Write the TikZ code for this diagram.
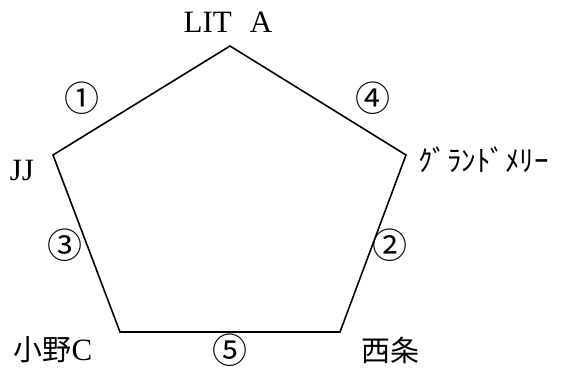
\documentclass[tikz,border=0pt]{standalone}
\usepackage{fontspec}
\setmainfont{Liberation Serif}
\newfontfamily\jpfont{Noto Sans CJK JP}
\usepackage{tikz}
\usetikzlibrary{positioning}
\tikzstyle{lbl} = [inner sep=0pt, font=\fontsize{31}{32}\selectfont]
\tikzstyle{jlbl} = [inner sep=0pt, font=\fontsize{29}{30}\selectfont\jpfont]
\tikzstyle{num} = [inner sep=0pt, font=\fontsize{35}{36}\selectfont\jpfont]
\tikzstyle{edge} = [line width=1.6pt, line join=miter]

\begin{document}
\begin{tikzpicture}[x=1pt,y=-1pt]
                        \useasboundingbox (0,0) rectangle (563,369);
                        \coordinate (lit) at (230, 46);
                        \coordinate (gm) at (406, 155);
                        \coordinate (sj) at (340, 332);
                        \coordinate (ono) at (120, 332);
                        \coordinate (jj) at (53, 155);
                        \draw [edge] (lit) -- (gm) -- (sj) -- (ono) -- (jj) -- cycle;
                        \node [lbl] (tlit) at (228, 22) {LIT\hspace{18pt}A};
                        \node [lbl] (tjj) at (22, 171) {JJ};
                        \node [jlbl, anchor=west] (tgm) at (418, 160) {ｸﾞﾗﾝﾄﾞﾒﾘｰ};
                        \node [jlbl] (tono) at (53, 350) {小野\fontsize{31}{32}\selectfont\rmfamily C};
                        \node [jlbl] (tsj) at (390, 350) {西条};
                        \node [num] (n1) at (82, 98) {①};
                        \node [num] (n4) at (373, 98) {④};
                        \node [num] (n3) at (65, 245) {③};
                        \node [num] (n2) at (390, 245) {②};
                        \node [num] (n5) at (230, 350) {⑤};
                    \end{tikzpicture}
\end{document}
